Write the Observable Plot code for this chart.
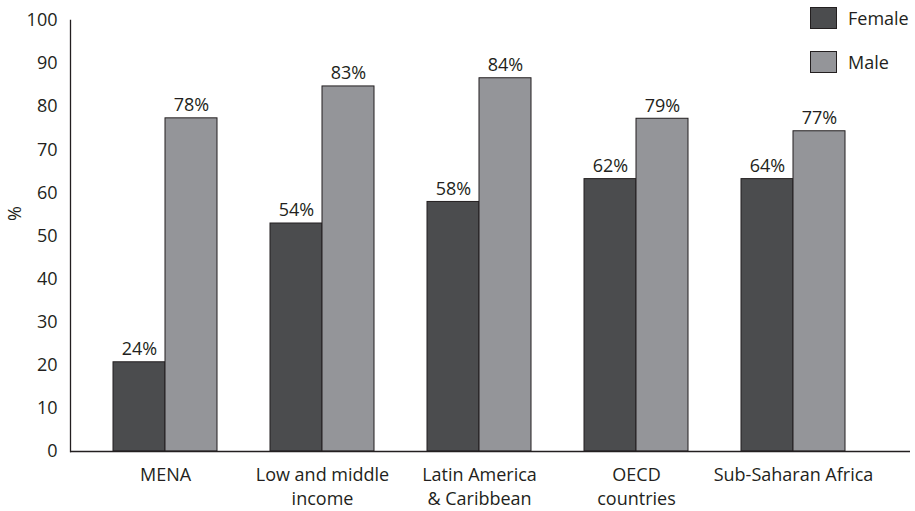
<!DOCTYPE html>
<html>
<head>
<meta charset="utf-8">
<script src="https://cdn.jsdelivr.net/npm/d3@7"></script>
<script src="https://cdn.jsdelivr.net/npm/@observablehq/plot@0.6"></script>
<style>
  body { margin: 0; background: #fff; font-family: "Open Sans", sans-serif; }
  #wrap { position: relative; width: 915px; height: 511px; }
  #legend { position: absolute; left: 810px; top: 7px; font-size: 18px; color: #231f20; }
  .item { display: flex; align-items: center; height: 22px; margin-bottom: 22px; }
  .sw { width: 27px; height: 22px; box-sizing: border-box; border: 1px solid #231f20; margin-right: 11px; }
</style>
</head>
<body>
<div id="wrap"><div id="legend"></div></div>
<script>
const categories = ["MENA", "Low and middle income", "Latin America & Caribbean", "OECD countries", "Sub-Saharan Africa"];
const categoryLines = ["MENA", "Low and middle\nincome", "Latin America\n& Caribbean", "OECD\ncountries", "Sub-Saharan Africa"];
const series = ["Female", "Male"];
const femaleValues = [20.7, 52.9, 57.9, 63.2, 63.2];
const maleValues = [77.3, 84.7, 86.6, 77.2, 74.3];
const femaleLabels = ["24%", "54%", "58%", "62%", "64%"];
const maleLabels = ["78%", "83%", "84%", "79%", "77%"];
const yTicks = [0, 10, 20, 30, 40, 50, 60, 70, 80, 90, 100];
const yLabel = "%";

const colors = {Female: "#4b4c4e", Male: "#949599"};
const female = categories.map((c, i) => ({category: c, value: femaleValues[i], label: femaleLabels[i]}));
const male = categories.map((c, i) => ({category: c, value: maleValues[i], label: maleLabels[i]}));
const lineOf = new Map(categories.map((c, i) => [c, categoryLines[i]]));

const chart = Plot.plot({
  width: 915,
  height: 511,
  marginLeft: 70,
  marginRight: 5,
  marginTop: 20,
  marginBottom: 60,
  style: {fontFamily: "Open Sans, sans-serif", color: "#231f20", background: "#fff"},
  x: {domain: categories, paddingInner: 0.669, paddingOuter: 0.506, align: 0.43},
  y: {domain: [0, 100]},
  marks: [
    Plot.barY(female, {x: "category", y: "value", dx: -26, fill: colors.Female, stroke: "#231f20", strokeWidth: 1}),
    Plot.barY(male, {x: "category", y: "value", dx: 26, fill: colors.Male, stroke: "#231f20", strokeWidth: 1}),
    Plot.text(female, {x: "category", y: "value", text: "label", dx: -26, dy: -13, fontSize: 18, fill: "#231f20"}),
    Plot.text(male, {x: "category", y: "value", text: "label", dx: 26, dy: -13, fontSize: 18, fill: "#231f20"}),
    Plot.ruleY([0], {stroke: "#231f20", strokeWidth: 1.3}),
    Plot.frame({anchor: "left", stroke: "#231f20", strokeWidth: 1.3}),
    Plot.axisY({ticks: yTicks, tickSize: 0, tickPadding: 13, fontSize: 18, label: null}),
    Plot.text([yLabel], {text: d => d, frameAnchor: "left", dx: -55, dy: -15, rotate: -90, fontSize: 18, fill: "#231f20"}),
    Plot.axisX({tickSize: 0, tickPadding: 12, fontSize: 18, lineHeight: 1.35, tickFormat: d => lineOf.get(d), label: null})
  ]
});
document.getElementById("wrap").prepend(chart);

const legend = document.getElementById("legend");
series.forEach(s => {
  const item = document.createElement("div");
  item.className = "item";
  const sw = document.createElement("div");
  sw.className = "sw";
  sw.style.background = colors[s];
  const t = document.createElement("span");
  t.textContent = s;
  item.append(sw, t);
  legend.append(item);
});
</script>
</body>
</html>
